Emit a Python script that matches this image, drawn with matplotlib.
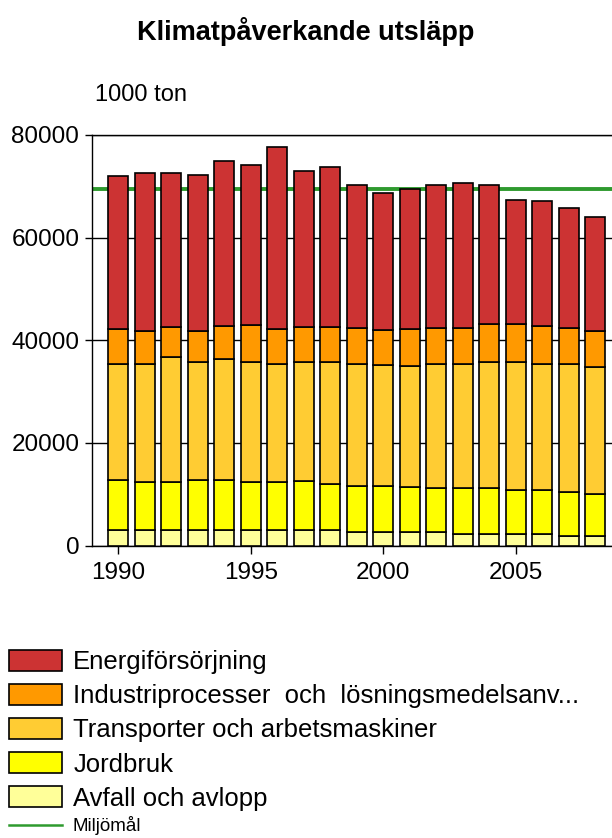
import matplotlib.pyplot as plt
from matplotlib.patches import Patch
from matplotlib.lines import Line2D
import numpy as np

plt.rcParams['font.family'] = ['Liberation Sans', 'DejaVu Sans']

years = list(range(1990, 2009))
avfall = [3000, 3000, 3000, 3000, 3000, 3000, 3000, 3000, 3000,
          2600, 2600, 2600, 2600, 2200, 2200, 2200, 2200, 1800, 1800]
jordbruk = [9700, 9350, 9350, 9750, 9750, 9350, 9350, 9550, 8950,
            8950, 8950, 8850, 8550, 8950, 8950, 8700, 8550, 8550, 8200]
transport = [22700, 23100, 24300, 23050, 23550, 23450, 23100, 23250, 23850,
             23900, 23550, 23500, 24300, 24300, 24600, 24850, 24700, 25050, 24700]
industri = [6700, 6300, 5850, 6000, 6550, 7100, 6700, 6700, 6700,
            7000, 6950, 7150, 7000, 7000, 7450, 7450, 7400, 7000, 7050]
energi = [29950, 30800, 30050, 30400, 32000, 31250, 35450, 30450, 31250,
          27750, 26550, 27350, 27750, 28100, 26950, 24200, 24200, 23450, 22200]
miljomal = 69500

series = [
    ('Avfall och avlopp', avfall, '#ffff99'),
    ('Jordbruk', jordbruk, '#ffff00'),
    ('Transporter och arbetsmaskiner', transport, '#ffcc33'),
    ('Industriprocesser  och  lösningsmedelsanv...', industri, '#ff9900'),
    ('Energiförsörjning', energi, '#cc3333'),
]

fig = plt.figure(figsize=(6.12, 8.38), dpi=100)
ax = fig.add_axes([0.150, 0.349, 0.866, 0.490])

bottom = np.zeros(len(years))
for name, vals, col in series:
    ax.bar(years, vals, bottom=bottom, width=0.74, color=col,
           edgecolor='black', linewidth=1.2, zorder=3)
    bottom += np.array(vals)

ax.plot([1989, 2009], [miljomal, miljomal], color='#2e9a2e', lw=2.8, zorder=2)

ax.set_xlim(1989, 2009)
ax.set_ylim(0, 80000)
ax.set_yticks([0, 20000, 40000, 60000, 80000])
ax.set_xticks([1990, 1995, 2000, 2005])
ax.grid(axis='y', color='black', lw=1.0, zorder=0)
ax.set_axisbelow(True)
for s in ['left', 'top', 'bottom', 'right']:
    ax.spines[s].set_linewidth(1.0)
ax.tick_params(axis='y', labelsize=17.5, length=5, width=1.0, pad=4)
ax.tick_params(axis='x', labelsize=17.5, length=6, width=1.0, pad=6)

fig.text(0.5, 0.963, 'Klimatpåverkande utsläpp', ha='center', va='center',
         fontsize=19.5, fontweight='bold')
fig.text(0.155, 0.887, '1000 ton', ha='left', va='center', fontsize=17)

handles = [Patch(facecolor=col, edgecolor='black', linewidth=1.2)
           for name, vals, col in series[::-1]]
labels = [name for name, vals, col in series[::-1]]
fig.legend(handles, labels, loc='upper left', bbox_to_anchor=(0.015, 0.2245),
           frameon=False, fontsize=18.5, handlelength=2.06, handleheight=0.9,
           handletextpad=0.43, labelspacing=0.37, borderaxespad=0, borderpad=0)

# Miljömål entry sits tighter under the others
fig.legend([Line2D([], [], color='#2e9a2e', lw=1.8)], ['Miljömål'],
           loc='center left', bbox_to_anchor=(0.015, 0.0145),
           frameon=False, fontsize=13.5, handlelength=2.8,
           handletextpad=0.58, borderaxespad=0, borderpad=0)

fig.savefig('out.png', dpi=100)
